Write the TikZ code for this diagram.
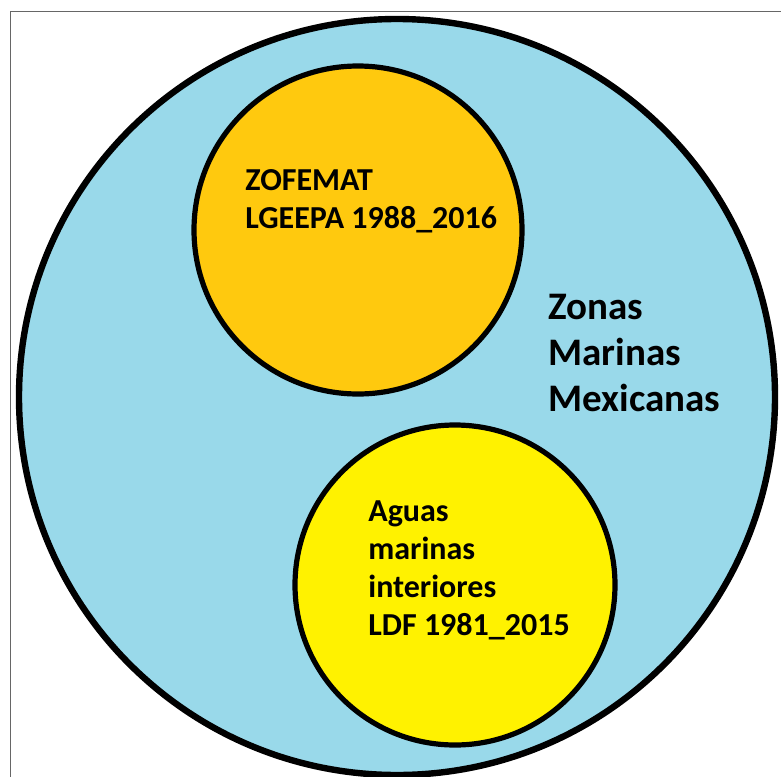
\documentclass[tikz,border=0pt]{standalone}
\usepackage{fontspec}
\setmainfont{Carlito}
\definecolor{turquesa}{RGB}{153,217,234}
\definecolor{oro}{RGB}{255,201,14}
\definecolor{amarillo}{RGB}{255,242,0}
\tikzset{
    zona/.style={circle, draw=black, fill=turquesa, line width=3.2pt, inner sep=0pt},
    ley/.style={circle, draw=black, line width=2.6pt, inner sep=0pt},
    rotulo/.style={align=left, inner sep=0pt, anchor=north west, font=\bfseries\fontsize{16}{19}\selectfont}
}

\begin{document}
\begin{tikzpicture}
  [
    x                       = 0.5pt,
    y                       = -0.5pt,
  ]
  \useasboundingbox (0,0) rectangle (781,776);
  \clip (0,0) rectangle (781,776);
  \draw [black!60, line width=0.5pt] (10,800) -- (10,11) -- (800,11);
  \node [zona, minimum size=378pt] (zmm) at (397,397) {};
  \node [ley, fill=oro, minimum size=164pt] (zofemat) at (358,230) {};
  \node [ley, fill=amarillo, minimum size=160pt] (aguas) at (455,585) {};
  \node [rotulo] (tzofemat) at (245,169) {ZOFEMAT\\LGEEPA 1988\_2016};
  \node [rotulo] (taguas) at (368,500) {Aguas\\marinas\\interiores\\LDF 1981\_2015};
  \node [rotulo, font=\bfseries\fontsize{19.5}{23}\selectfont] (tzmm) at (548,294) {Zonas\\Marinas\\Mexicanas};
\end{tikzpicture}
\end{document}
